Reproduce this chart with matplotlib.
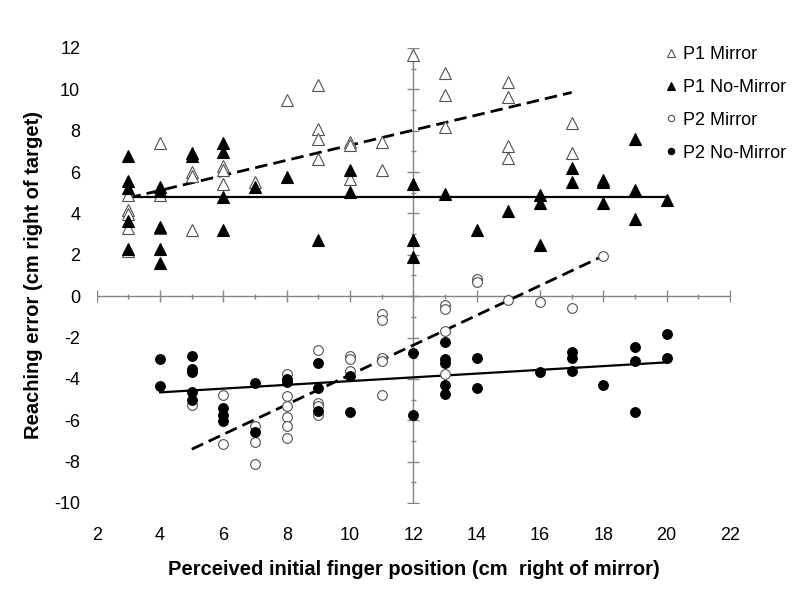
import numpy as np
import matplotlib
matplotlib.use('Agg')
import matplotlib.pyplot as plt

plt.rcParams['font.family'] = ['Liberation Sans', 'DejaVu Sans']
plt.rcParams['axes.unicode_minus'] = False

#===================== DATA =================================================
# P1 Mirror (open triangles)
p1m_x = [3, 3, 3, 3, 3, 4, 4, 4, 5, 5, 5, 6, 6, 6, 7, 8, 9, 9, 9, 9,
         10, 10, 10, 11, 11, 12, 13, 13, 13, 15, 15, 15, 15, 17, 17]
p1m_y = [4.9, 4.15, 3.95, 3.3, 2.2, 7.4, 4.9, 3.3, 6.0, 5.8, 3.2, 6.3, 6.1, 5.4, 5.5, 9.5,
         10.2, 8.1, 7.6, 6.65, 7.45, 7.3, 5.65, 7.45, 6.1, 11.65, 10.8, 9.75, 8.2,
         10.35, 9.65, 7.25, 6.7, 8.35, 6.9]

# P1 No-Mirror (filled triangles)
p1n_x = [3, 3, 3, 3, 3, 4, 4, 4, 4, 4, 5, 5, 6, 6, 6, 6, 7, 8, 9, 10, 10,
         12, 12, 12, 13, 14, 15, 16, 16, 16, 17, 17, 18, 18, 18, 19, 19, 19, 20]
p1n_y = [6.8, 5.55, 5.25, 3.65, 2.3, 5.3, 5.1, 3.35, 2.3, 1.6, 6.9, 6.8, 7.4, 6.95, 4.8, 3.2,
         5.3, 5.75, 2.7, 6.1, 5.05, 5.4, 2.7, 1.9, 4.95, 3.2, 4.1, 4.9, 4.5, 2.45,
         6.2, 5.5, 5.6, 5.5, 4.5, 7.6, 5.15, 3.75, 4.65]

# P2 Mirror (open circles)
p2m_x = [5, 6, 6, 7, 7, 7, 8, 8, 8, 8, 8, 8, 9, 9, 9, 9, 10, 10, 10,
         11, 11, 11, 11, 11, 13, 13, 13, 13, 14, 14, 15, 16, 17, 18]
p2m_y = [-5.25, -4.8, -7.15, -6.3, -7.05, -8.1, -3.75, -4.85, -5.3, -5.85, -6.3, -6.85,
         -2.6, -5.15, -5.3, -5.75, -2.9, -3.05, -3.6, -0.85, -1.15, -3.0, -3.15, -4.8,
         -0.45, -0.6, -1.7, -3.75, 0.85, 0.7, -0.2, -0.3, -0.55, 1.95]

# P2 No-Mirror (filled circles)
p2n_x = [4, 4, 5, 5, 5, 5, 5, 6, 6, 6, 7, 7, 8, 8, 9, 9, 9, 10, 10, 12, 12,
         13, 13, 13, 13, 13, 14, 14, 16, 17, 17, 17, 18, 19, 19, 19, 20, 20]
p2n_y = [-3.05, -4.35, -2.9, -3.5, -3.65, -4.65, -5.0, -5.4, -5.75, -6.05, -4.2, -6.55,
         -4.0, -4.15, -3.25, -4.45, -5.55, -3.85, -5.6, -2.75, -5.75,
         -2.2, -3.05, -3.25, -4.3, -4.75, -3.0, -4.45, -3.65, -2.7, -3.0, -3.6, -4.3,
         -2.45, -3.15, -5.6, -1.85, -3.0]

# trend lines (start/end x, start/end y)
trend_p1m = ([3, 17], [4.75, 9.85])
trend_p1n = ([3, 20], [4.8, 4.8])
trend_p2m = ([5, 18], [-7.4, 1.95])
trend_p2n = ([4, 20], [-4.65, -3.2])

labels = ['P1 Mirror', 'P1 No-Mirror', 'P2 Mirror', 'P2 No-Mirror']
xTicks = np.arange(2, 23, 2)
yTicks = np.arange(-10, 13, 2)
figXlabel = 'Perceived initial finger position (cm  right of mirror)'
figYlabel = 'Reaching error (cm right of target)'
#===================== END DATA ==========================

fig = plt.figure(figsize=(8, 6.05), dpi=100)
ax = fig.add_axes([0.121, 0.1686, 0.7915, 0.7521])

axisColor = '#858585'
# axes crossing at x=12 and y=0 (Excel style)
ax.plot([2, 22], [0, 0], color=axisColor, lw=1, zorder=1)
ax.plot([12, 12], [-10, 12], color=axisColor, lw=1, zorder=1)
ax.plot(xTicks, np.zeros(len(xTicks)), ls='none', marker='|', ms=8, mew=1, color=axisColor, zorder=1)
ax.plot(np.arange(3, 22, 2), np.zeros(10), ls='none', marker='|', ms=3.6, mew=1, color=axisColor, zorder=1)
ax.plot(np.full(len(yTicks), 12), yTicks, ls='none', marker='_', ms=8, mew=1, color=axisColor, zorder=1)
ax.plot(np.full(11, 12), np.arange(-9, 12, 2), ls='none', marker='_', ms=3.6, mew=1, color=axisColor, zorder=1)

# trend lines
ax.plot(*trend_p1m, color='black', lw=2, dashes=(4.5, 2.2), zorder=2)
ax.plot(*trend_p1n, color='black', lw=1.6, zorder=2)
ax.plot(*trend_p2m, color='black', lw=2, dashes=(4.5, 2.2), zorder=2)
ax.plot(*trend_p2n, color='black', lw=1.6, zorder=2)

edge = '#505050'
ax.plot(p1m_x, p1m_y, ls='none', marker='^', ms=8, mfc='white', mec=edge, mew=0.8, label=labels[0], zorder=3)
ax.plot(p1n_x, p1n_y, ls='none', marker='^', ms=8, mfc='black', mec='black', mew=0.8, label=labels[1], zorder=3)
ax.plot(p2m_x, p2m_y, ls='none', marker='o', ms=7, mfc='white', mec=edge, mew=0.8, label=labels[2], zorder=3)
ax.plot(p2n_x, p2n_y, ls='none', marker='o', ms=7, mfc='black', mec='black', mew=0.8, label=labels[3], zorder=3)

ax.set_xlim(2, 22)
ax.set_ylim(-10, 12)
ax.set_xticks(xTicks)
ax.set_yticks(yTicks)
ax.tick_params(length=0, labelsize=13)
ax.tick_params(axis='x', pad=17)
ax.tick_params(axis='y', pad=12)
for s in ax.spines.values():
    s.set_visible(False)

ax.set_xlabel(figXlabel, fontsize=14.5, fontweight='bold', labelpad=12)
ax.set_ylabel(figYlabel, fontsize=14.5, fontweight='bold', labelpad=8)

ax.legend(loc='upper left', bbox_to_anchor=(0.832, 0.924), bbox_transform=fig.transFigure,
          frameon=False, fontsize=13, markerscale=0.65, handlelength=0.6, handletextpad=0.35,
          labelspacing=0.88, borderpad=0, borderaxespad=0)

fig.savefig('out.png', dpi=100)
